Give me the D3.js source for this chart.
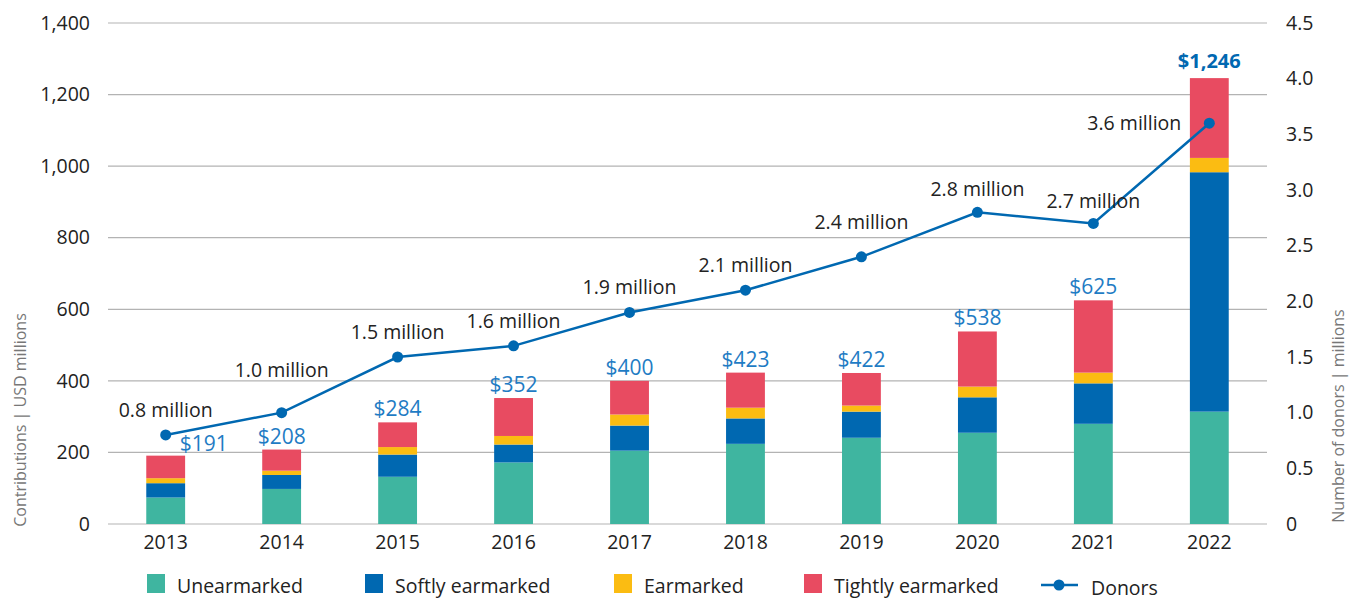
<!DOCTYPE html>
<html>
<head>
<meta charset="utf-8">
<script src="https://cdn.jsdelivr.net/npm/d3@7"></script>
<style>
  body { margin: 0; background: #fff; }
  svg text { font-family: "Open Sans", "Lato", sans-serif; }
</style>
</head>
<body>
<div id="chart"></div>
<script>
var years = ["2013", "2014", "2015", "2016", "2017", "2018", "2019", "2020", "2021", "2022"];
var unearmarked = [74, 98, 132, 172, 205, 224, 241, 255, 280, 314];
var softly = [40, 39, 62, 50, 70, 71, 73, 99, 113, 669];
var earmarked = [14, 12, 21, 24, 31, 30, 17, 30, 30, 40];
var tightly = [63, 59, 69, 106, 94, 98, 91, 154, 202, 223];
var totals = [191, 208, 284, 352, 400, 423, 422, 538, 625, 1246];
var donors = [0.8, 1.0, 1.5, 1.6, 1.9, 2.1, 2.4, 2.8, 2.7, 3.6];
var leftTicks = [0, 200, 400, 600, 800, 1000, 1200, 1400];
var rightTicks = [0, 0.5, 1, 1.5, 2, 2.5, 3, 3.5, 4, 4.5];

var keys = ["unearmarked", "softly", "earmarked", "tightly"];
var names = ["Unearmarked", "Softly earmarked", "Earmarked", "Tightly earmarked"];
var colors = ["#3fb5a0", "#0068b1", "#fbbc12", "#e84b61"];

var width = 1349,
    height = 601;

var rows = years.map(function(y, i) {
  return { year: y, unearmarked: unearmarked[i], softly: softly[i], earmarked: earmarked[i], tightly: tightly[i] };
});

var x = d3.scaleBand()
    .domain(years)
    .range([108, 1267])
    .paddingInner(0.665)
    .paddingOuter(0.33);

var y = d3.scaleLinear()
    .domain([0, 1400])
    .range([524, 23]);

var y2 = d3.scaleLinear()
    .domain([0, 4.5])
    .range([524, 23]);

var svg = d3.select("#chart").append("svg")
    .attr("width", width)
    .attr("height", height);

// gridlines
svg.append("g")
  .selectAll("line")
    .data(leftTicks)
  .enter().append("line")
    .attr("x1", 108)
    .attr("x2", 1267)
    .attr("y1", function(d) { return y(d); })
    .attr("y2", function(d) { return y(d); })
    .style("stroke", "#b3b3b3")
    .style("stroke-width", 1.2);

var leftAxis = svg.append("g")
    .attr("transform", "translate(108,0)")
    .call(d3.axisLeft(y).tickValues(leftTicks).tickSize(0).tickPadding(18).tickFormat(d3.format(",")));
leftAxis.select(".domain").remove();
leftAxis.selectAll("text").style("font-size", "19.5px").style("fill", "#222");

var rightAxis = svg.append("g")
    .attr("transform", "translate(1267,0)")
    .call(d3.axisRight(y2).tickValues(rightTicks).tickSize(0).tickPadding(19)
      .tickFormat(function(d) { return d === 0 ? "0" : d3.format(".1f")(d); }));
rightAxis.select(".domain").remove();
rightAxis.selectAll("text").style("font-size", "19.5px").style("fill", "#222");

var bottomAxis = svg.append("g")
    .attr("transform", "translate(0,524)")
    .call(d3.axisBottom(x).tickSize(0).tickPadding(11));
bottomAxis.select(".domain").remove();
bottomAxis.selectAll("text").style("font-size", "19.5px").style("fill", "#222");

svg.append("text")
    .attr("transform", "translate(26,420) rotate(-90)")
    .attr("text-anchor", "middle")
    .style("font-size", "16px")
    .style("fill", "#777")
    .text("Contributions | USD millions");

svg.append("text")
    .attr("transform", "translate(1344,416) rotate(-90)")
    .attr("text-anchor", "middle")
    .style("font-size", "16px")
    .style("fill", "#777")
    .text("Number of donors | millions");

// stacked bars
var stack = d3.stack().keys(keys);
var series = stack(rows);

svg.append("g")
  .selectAll("g")
    .data(series)
  .enter().append("g")
    .style("fill", function(d, i) { return colors[i]; })
  .selectAll("rect")
    .data(function(d) { return d; })
  .enter().append("rect")
    .attr("x", function(d) { return x(d.data.year); })
    .attr("width", x.bandwidth())
    .attr("y", function(d) { return y(d[1]); })
    .attr("height", function(d) { return y(d[0]) - y(d[1]); });

// total labels
svg.append("g")
  .selectAll("text")
    .data(totals)
  .enter().append("text")
    .attr("x", function(d, i) {
      var cx = x(years[i]) + x.bandwidth() / 2;
      return i === 0 ? cx + 38 : cx;
    })
    .attr("y", function(d, i) {
      if (i === 0) return y(d) - 5;
      return i === 9 ? y(d) - 10 : y(d) - 6;
    })
    .attr("text-anchor", "middle")
    .style("font-size", function(d, i) { return i === 9 ? "20px" : "21px"; })
    .style("font-weight", function(d, i) { return i === 9 ? "bold" : "normal"; })
    .style("fill", function(d, i) { return i === 9 ? "#0068b1" : "#1f7cc4"; })
    .text(function(d) { return "$" + d3.format(",")(d); });

// donors line
var line = d3.line()
    .x(function(d, i) { return x(years[i]) + x.bandwidth() / 2; })
    .y(function(d) { return y2(d); });

svg.append("path")
    .datum(donors)
    .attr("d", line)
    .style("fill", "none")
    .style("stroke", "#0068b1")
    .style("stroke-width", 2.5);

svg.append("g")
  .selectAll("circle")
    .data(donors)
  .enter().append("circle")
    .attr("cx", function(d, i) { return x(years[i]) + x.bandwidth() / 2; })
    .attr("cy", function(d) { return y2(d); })
    .attr("r", 5.5)
    .style("fill", "#0068b1");

// donor labels, nudged where the line would cross them
var labelNudge = { 1: -36, 6: -28, 7: -16, 8: -15 };
svg.append("g")
  .selectAll("text")
    .data(donors)
  .enter().append("text")
    .attr("x", function(d, i) {
      var cx = x(years[i]) + x.bandwidth() / 2;
      return i === 9 ? cx - 75 : cx;
    })
    .attr("y", function(d, i) {
      if (i === 9) return y2(d) + 7;
      return y2(d) + (labelNudge[i] || -18);
    })
    .attr("text-anchor", "middle")
    .style("font-size", "19.5px")
    .style("fill", "#222")
    .text(function(d) { return d3.format(".1f")(d) + " million"; });

// legend
var legendX = [147, 365, 614, 804];
var legend = svg.append("g");
names.forEach(function(n, i) {
  legend.append("rect")
      .attr("x", legendX[i])
      .attr("y", 574)
      .attr("width", 18)
      .attr("height", 19)
      .style("fill", colors[i]);
  legend.append("text")
      .attr("x", legendX[i] + 30)
      .attr("y", 593)
      .style("font-size", "19.5px")
      .style("fill", "#222")
      .text(n);
});
legend.append("line")
    .attr("x1", 1041).attr("x2", 1078)
    .attr("y1", 585).attr("y2", 585)
    .style("stroke", "#0068b1")
    .style("stroke-width", 2.5);
legend.append("circle")
    .attr("cx", 1059).attr("cy", 585).attr("r", 5.5)
    .style("fill", "#0068b1");
legend.append("text")
    .attr("x", 1091)
    .attr("y", 595)
    .style("font-size", "19.5px")
    .style("fill", "#222")
    .text("Donors");
</script>
</body>
</html>
